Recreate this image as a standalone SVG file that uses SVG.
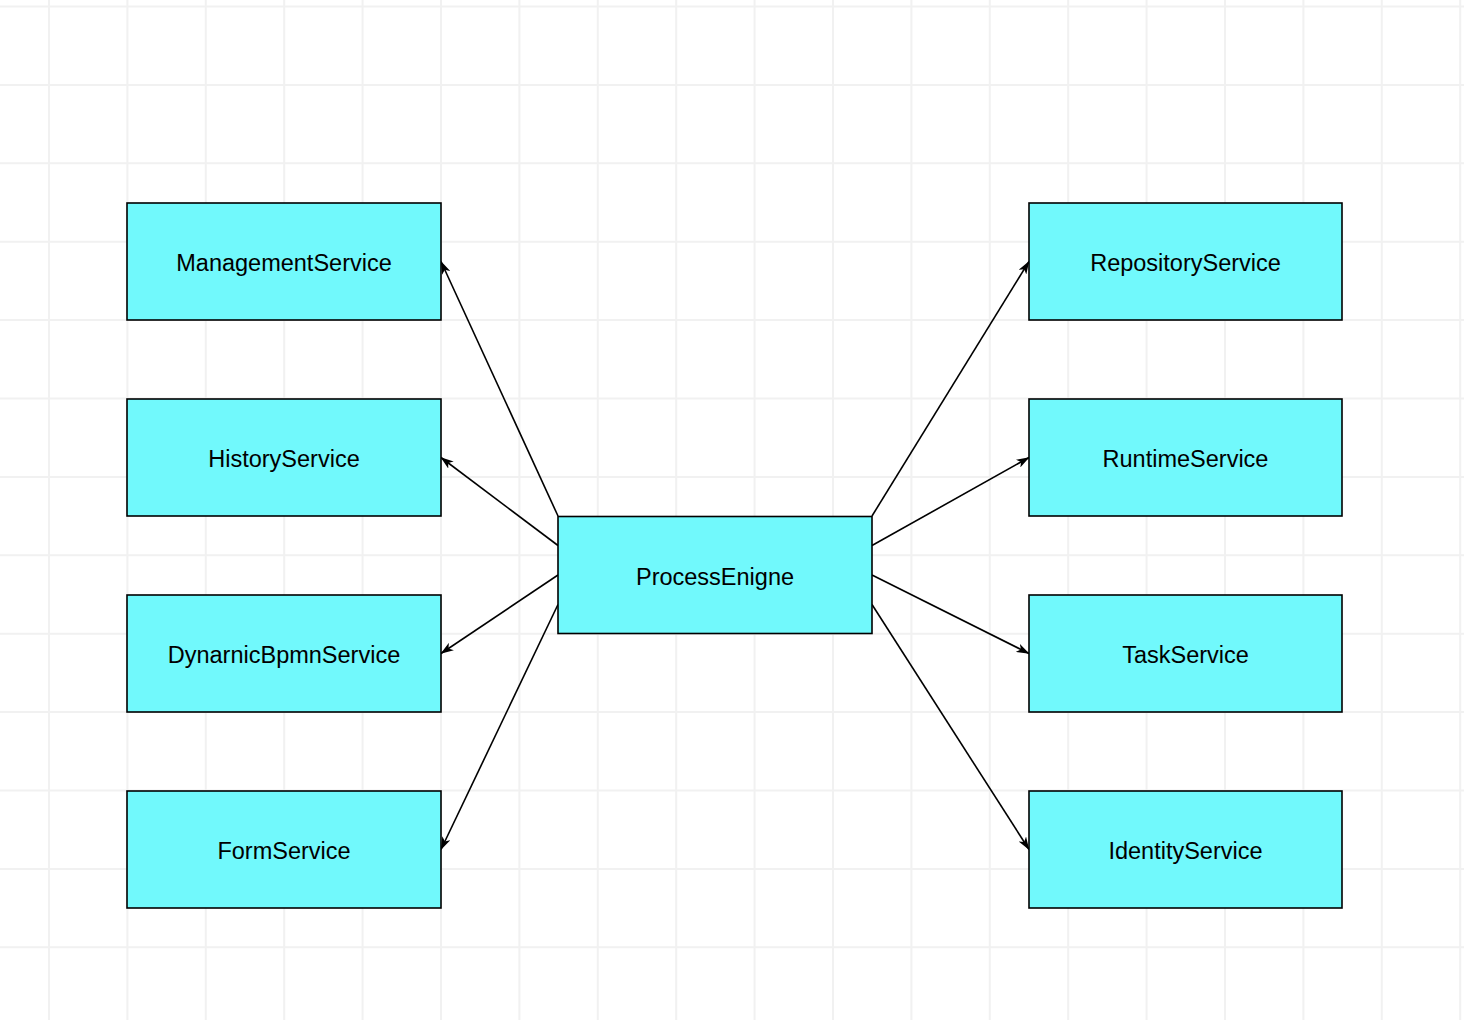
<svg xmlns="http://www.w3.org/2000/svg" width="1464" height="1020" viewBox="0 0 1464 1020">
<defs>
<style>
.grid line{stroke:#f1f1f1;stroke-width:2}
.box{fill:#71f9fc;stroke:#000;stroke-width:1.6}
.lbl{font-family:"Liberation Sans",Arial,sans-serif;font-size:23.5px;fill:#000;text-anchor:middle;dominant-baseline:central}
.edge{stroke:#000;stroke-width:1.6;fill:none;marker-end:url(#arr)}
</style>
<marker id="arr" viewBox="0 0 13 9" refX="12.5" refY="4.5" markerWidth="13" markerHeight="9" markerUnits="userSpaceOnUse" orient="auto">
<path d="M0,0 L13,4.5 L0,9 L3.5,4.5 Z" fill="#000"/>
</marker>
</defs>
<rect width="1464" height="1020" fill="#fff"/>
<g class="grid">
<line x1="49" y1="0" x2="49" y2="1020"/>
<line x1="127.4" y1="0" x2="127.4" y2="1020"/>
<line x1="205.8" y1="0" x2="205.8" y2="1020"/>
<line x1="284.2" y1="0" x2="284.2" y2="1020"/>
<line x1="362.6" y1="0" x2="362.6" y2="1020"/>
<line x1="441" y1="0" x2="441" y2="1020"/>
<line x1="519.4" y1="0" x2="519.4" y2="1020"/>
<line x1="597.8" y1="0" x2="597.8" y2="1020"/>
<line x1="676.2" y1="0" x2="676.2" y2="1020"/>
<line x1="754.6" y1="0" x2="754.6" y2="1020"/>
<line x1="833" y1="0" x2="833" y2="1020"/>
<line x1="911.4" y1="0" x2="911.4" y2="1020"/>
<line x1="989.8" y1="0" x2="989.8" y2="1020"/>
<line x1="1068.2" y1="0" x2="1068.2" y2="1020"/>
<line x1="1146.6" y1="0" x2="1146.6" y2="1020"/>
<line x1="1225" y1="0" x2="1225" y2="1020"/>
<line x1="1303.4" y1="0" x2="1303.4" y2="1020"/>
<line x1="1381.8" y1="0" x2="1381.8" y2="1020"/>
<line x1="1460.2" y1="0" x2="1460.2" y2="1020"/>
<line x1="0" y1="6.5" x2="1464" y2="6.5"/>
<line x1="0" y1="84.9" x2="1464" y2="84.9"/>
<line x1="0" y1="163.3" x2="1464" y2="163.3"/>
<line x1="0" y1="241.7" x2="1464" y2="241.7"/>
<line x1="0" y1="320.1" x2="1464" y2="320.1"/>
<line x1="0" y1="398.5" x2="1464" y2="398.5"/>
<line x1="0" y1="476.9" x2="1464" y2="476.9"/>
<line x1="0" y1="555.3" x2="1464" y2="555.3"/>
<line x1="0" y1="633.7" x2="1464" y2="633.7"/>
<line x1="0" y1="712.1" x2="1464" y2="712.1"/>
<line x1="0" y1="790.5" x2="1464" y2="790.5"/>
<line x1="0" y1="868.9" x2="1464" y2="868.9"/>
<line x1="0" y1="947.3" x2="1464" y2="947.3"/>
</g>
<g id="connectors">
<line class="edge" x1="558" y1="516" x2="441" y2="261.5"/>
<line class="edge" x1="558" y1="545.5" x2="441" y2="457.5"/>
<line class="edge" x1="558" y1="575" x2="441" y2="653.5"/>
<line class="edge" x1="558" y1="604.5" x2="441" y2="849.5"/>
<line class="edge" x1="872" y1="516" x2="1029" y2="261.5"/>
<line class="edge" x1="872" y1="545.5" x2="1029" y2="457.5"/>
<line class="edge" x1="872" y1="575" x2="1029" y2="653.5"/>
<line class="edge" x1="872" y1="604.5" x2="1029" y2="849.5"/>
</g>
<g id="ProcessEnigne"><rect class="box" x="558" y="516.5" width="314" height="117"/><text class="lbl" x="715" y="577">ProcessEnigne</text></g>
<g id="ManagementService"><rect class="box" x="127" y="203" width="314" height="117"/><text class="lbl" x="284" y="263">ManagementService</text></g>
<g id="HistoryService"><rect class="box" x="127" y="399" width="314" height="117"/><text class="lbl" x="284" y="459">HistoryService</text></g>
<g id="DynarnicBpmnService"><rect class="box" x="127" y="595" width="314" height="117"/><text class="lbl" x="284" y="655">DynarnicBpmnService</text></g>
<g id="FormService"><rect class="box" x="127" y="791" width="314" height="117"/><text class="lbl" x="284" y="851">FormService</text></g>
<g id="RepositoryService"><rect class="box" x="1029" y="203" width="313" height="117"/><text class="lbl" x="1185.5" y="263">RepositoryService</text></g>
<g id="RuntimeService"><rect class="box" x="1029" y="399" width="313" height="117"/><text class="lbl" x="1185.5" y="459">RuntimeService</text></g>
<g id="TaskService"><rect class="box" x="1029" y="595" width="313" height="117"/><text class="lbl" x="1185.5" y="655">TaskService</text></g>
<g id="IdentityService"><rect class="box" x="1029" y="791" width="313" height="117"/><text class="lbl" x="1185.5" y="851">IdentityService</text></g>
</svg>
